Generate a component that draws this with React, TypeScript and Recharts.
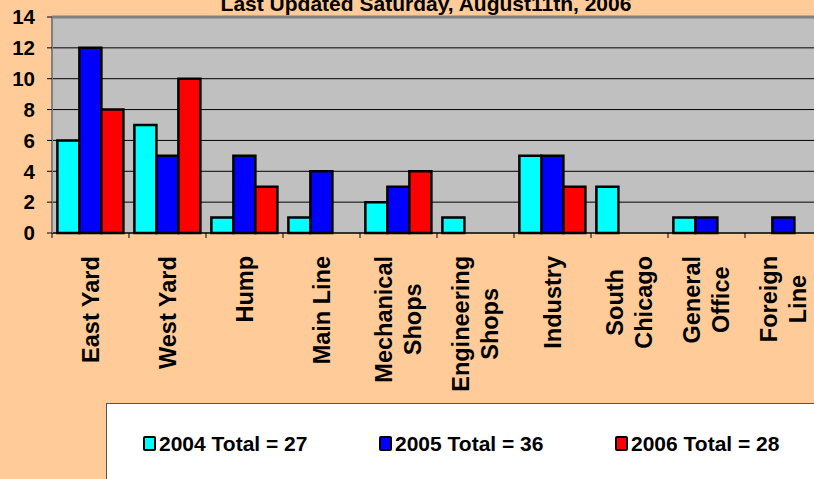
import React from 'react';
import { BarChart, Bar, XAxis, YAxis, CartesianGrid, Legend, ReferenceLine } from 'recharts';

const categories = [
  'East Yard', 'West Yard', 'Hump', 'Main Line', 'Mechanical Shops',
  'Engineering Shops', 'Industry', 'South Chicago', 'General Office', 'Foreign Line',
];
const categoryLines = [
  ['East Yard'], ['West Yard'], ['Hump'], ['Main Line'], ['Mechanical', 'Shops'],
  ['Engineering', 'Shops'], ['Industry'], ['South', 'Chicago'], ['General', 'Office'], ['Foreign', 'Line'],
];
const values2004 = [6, 7, 1, 1, 2, 1, 5, 3, 1, 0];
const values2005 = [12, 5, 5, 4, 3, 0, 5, 0, 1, 1];
const values2006 = [8, 10, 3, 0, 4, 0, 3, 0, 0, 0];
const seriesYears = ['2004', '2005', '2006'];
const seriesColors = ['#00FFFF', '#0000FF', '#FF0000'];
const yTicks = [0, 2, 4, 6, 8, 10, 12, 14];
const titleText = 'Last Updated Saturday, August11th, 2006';

const seriesValues = [values2004, values2005, values2006];
const data = categories.map((c, i) => ({
  name: c,
  y2004: values2004[i],
  y2005: values2005[i],
  y2006: values2006[i],
}));
const totals = seriesValues.map((arr) => arr.reduce((a, b) => a + b, 0));

const FONT = '"Liberation Sans", Arial, sans-serif';
const LABEL_SIZE = 23.5;

let measureCtx: CanvasRenderingContext2D | null = null;
function measure(text: string): number {
  if (!measureCtx) {
    const c = document.createElement('canvas');
    measureCtx = c.getContext('2d');
  }
  if (!measureCtx) return text.length * LABEL_SIZE * 0.6;
  measureCtx.font = `bold ${LABEL_SIZE}px "Liberation Sans"`;
  return measureCtx.measureText(text).width;
}

const CatTick = (props: any) => {
  const { x, y, payload, index } = props;
  const half = payload && typeof payload.offset === 'number' && payload.offset > 0 ? payload.offset : 38.5;
  const lines = categoryLines[index] || [String(payload.value)];
  const maxW = Math.max(...lines.map(measure));
  const capH = LABEL_SIZE * 0.716;
  const lineGap = 29;
  return (
    <g>
      <line x1={x - half} x2={x - half} y1={y} y2={y + 5} stroke="#000" strokeWidth={1} />
      {index === categories.length - 1 && (
        <line x1={x + half} x2={x + half} y1={y} y2={y + 5} stroke="#000" strokeWidth={1} />
      )}
      <g transform={`translate(${x},${y + 23}) rotate(-90)`}>
        {lines.map((ln: string, i: number) => (
          <text
            key={i}
            x={-maxW / 2}
            y={(i - (lines.length - 1) / 2) * lineGap + capH / 2}
            textAnchor="middle"
            fontFamily={FONT}
            fontWeight="bold"
            fontSize={LABEL_SIZE}
            fill="#000"
          >
            {ln}
          </text>
        ))}
      </g>
    </g>
  );
};

const renderLegend = () => (
  <div
    style={{
      width: '100%',
      height: '100%',
      background: '#FFFFFF',
      borderTop: '1px solid #555',
      borderLeft: '1px solid #555',
      boxSizing: 'border-box',
      position: 'relative',
      fontFamily: FONT,
    }}
  >
    {seriesYears.map((yr, i) => (
      <div
        key={yr}
        style={{
          position: 'absolute',
          left: 36 + i * 236,
          top: 29,
          display: 'flex',
          alignItems: 'center',
          whiteSpace: 'nowrap',
        }}
      >
        <span
          style={{
            display: 'inline-block',
            width: 9,
            height: 11,
            background: seriesColors[i],
            border: '2px solid #000',
            borderRadius: 2,
            marginRight: 3,
          }}
        />
        <span style={{ fontSize: 21, fontWeight: 'bold', color: '#000', lineHeight: '21px' }}>
          {`${yr} Total = ${totals[i]}`}
        </span>
      </div>
    ))}
  </div>
);

export default function App() {
  return (
    <div
      style={{
        position: 'absolute',
        left: 0,
        top: 0,
        width: 814,
        height: 479,
        overflow: 'hidden',
        background: '#FFCC99',
      }}
    >
      <div
        style={{
          position: 'absolute',
          left: 0,
          top: -7,
          width: 852,
          textAlign: 'center',
          fontFamily: FONT,
          fontWeight: 'bold',
          fontSize: 21,
          lineHeight: '21px',
          color: '#000',
          whiteSpace: 'nowrap',
        }}
      >
        {titleText}
      </div>
      <BarChart
        width={830}
        height={479}
        data={data}
        margin={{ top: 17, right: 8, bottom: 0, left: 0 }}
        barCategoryGap="7%"
        barGap={0}
        style={{ position: 'absolute', left: 0, top: 0 }}
      >
        <CartesianGrid vertical={false} stroke="#000" strokeWidth={1} fill="#C0C0C0" fillOpacity={1} />
        <XAxis
          dataKey="name"
          height={246}
          interval={0}
          tickLine={false}
          tickSize={0}
          tickMargin={0}
          axisLine={{ stroke: '#000', strokeWidth: 1 }}
          tick={<CatTick />}
        />
        <YAxis
          width={52}
          domain={[0, 14]}
          ticks={yTicks}
          interval={0}
          tickSize={5}
          tickMargin={12}
          tickLine={{ stroke: '#000' }}
          axisLine={{ stroke: '#808080', strokeWidth: 2 }}
          tick={{ fontFamily: FONT, fontWeight: 'bold', fontSize: 20.5, fill: '#000' }}
        />
        <ReferenceLine y={14} stroke="#808080" strokeWidth={3} />
        <Bar dataKey="y2004" fill={seriesColors[0]} stroke="#000" strokeWidth={2.5} isAnimationActive={false} />
        <Bar dataKey="y2005" fill={seriesColors[1]} stroke="#000" strokeWidth={2.5} isAnimationActive={false} />
        <Bar dataKey="y2006" fill={seriesColors[2]} stroke="#000" strokeWidth={2.5} isAnimationActive={false} />
        <Legend
          layout="vertical"
          verticalAlign="middle"
          align="center"
          content={renderLegend}
          wrapperStyle={{ position: 'absolute', left: 106, top: 403, width: 740, height: 90 }}
        />
      </BarChart>
    </div>
  );
}
